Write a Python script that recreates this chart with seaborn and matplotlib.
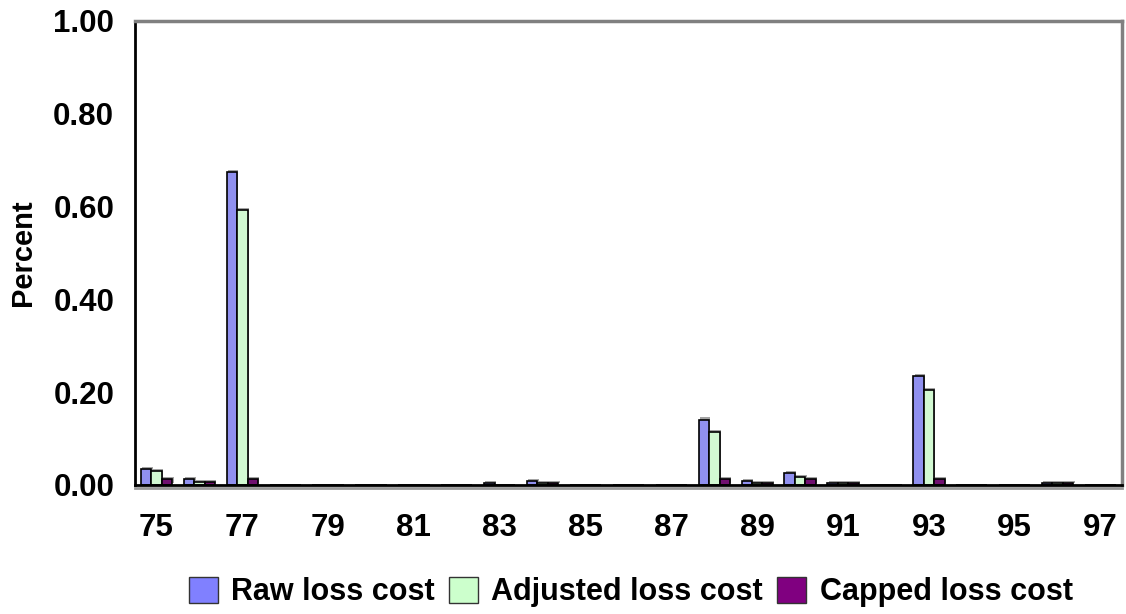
import numpy as np
import pandas as pd
import seaborn as sns
import matplotlib.pyplot as plt
import matplotlib.patheffects as pe

years = [str(y) for y in range(75, 98)]
raw = [0.034, 0.012, 0.675, 0, 0, 0, 0, 0, 0.005, 0.009, 0, 0, 0,
       0.141, 0.009, 0.026, 0.004, 0, 0.235, 0, 0, 0.004, 0]
adjusted = [0.030, 0.007, 0.593, 0, 0, 0, 0, 0, 0, 0.004, 0, 0, 0,
            0.114, 0.004, 0.017, 0.004, 0, 0.205, 0, 0, 0.004, 0]
capped = [0.013, 0.007, 0.013, 0, 0, 0, 0, 0, 0, 0.004, 0, 0, 0,
          0.013, 0.004, 0.013, 0.004, 0, 0.013, 0, 0, 0.004, 0]
series = ['Raw loss cost', 'Adjusted loss cost', 'Capped loss cost']
colors = ['#8080FF', '#CCFFCC', '#800080']

df = pd.DataFrame({
    'year': years * 3,
    'value': raw + adjusted + capped,
    'series': [series[0]] * len(years) + [series[1]] * len(years) + [series[2]] * len(years),
})

sns.set_style('white')
plt.rcParams['font.family'] = ['Liberation Sans', 'DejaVu Sans']
plt.rcParams['font.weight'] = 'bold'
plt.rcParams['text.color'] = 'black'
plt.rcParams['xtick.color'] = 'black'
plt.rcParams['ytick.color'] = 'black'
plt.rcParams['axes.labelcolor'] = 'black'

fig = plt.figure(figsize=(11.26, 6.14), dpi=100)
ax = fig.add_axes([0.1199, 0.2101, 0.8765, 0.7557])

sns.barplot(data=df, x='year', y='value', hue='series', order=years,
            hue_order=series, palette=colors, width=0.73,
            edgecolor='black', linewidth=1.2, ax=ax, legend=False)

for p in ax.patches:
    p.set_path_effects([pe.SimplePatchShadow(offset=(1, 1.5), shadow_rgbFace='#999999', alpha=0.9),
                        pe.Normal()])

ax.set_xlim(-0.5, len(years) - 0.5)
ax.set_ylim(0, 1.0)
ax.set_yticks(np.arange(0, 1.01, 0.2))
ax.set_yticklabels([f'{v:.2f}' for v in np.arange(0, 1.01, 0.2)])
ax.set_xticks(range(len(years)))
ax.set_xticklabels([y if i % 2 == 0 else '' for i, y in enumerate(years)])
ax.tick_params(axis='both', length=0, labelsize=22.5)
ax.tick_params(axis='x', pad=20)
ax.tick_params(axis='y', pad=15)
for lab in ax.get_xticklabels() + ax.get_yticklabels():
    lab.set_fontweight('bold')
for lab in ax.get_xticklabels():
    lab.set_x(lab.get_position()[0])
ax.set_xlabel('')
ax.set_ylabel('Percent', fontsize=21, fontweight='bold', labelpad=12)

for s in ['left', 'bottom']:
    ax.spines[s].set_color('black')
    ax.spines[s].set_linewidth(2)
for s in ['top', 'right']:
    ax.spines[s].set_color('#808080')
    ax.spines[s].set_linewidth(2.5)
ax.spines['bottom'].set_path_effects([pe.SimpleLineShadow(offset=(0, -2.5), shadow_color='#999999', alpha=1),
                                      pe.Normal()])

handles = [plt.Rectangle((0, 0), 1, 1, facecolor=c, edgecolor='#333333', linewidth=1) for c in colors]
fig.legend(handles, series, loc='center', bbox_to_anchor=(0.56, 0.036), ncol=3,
           frameon=False, prop={'size': 22, 'weight': 'bold'},
           handlelength=0.95, handleheight=0.95, handletextpad=0.45, columnspacing=0.45)

fig.savefig('out.png', dpi=100)
